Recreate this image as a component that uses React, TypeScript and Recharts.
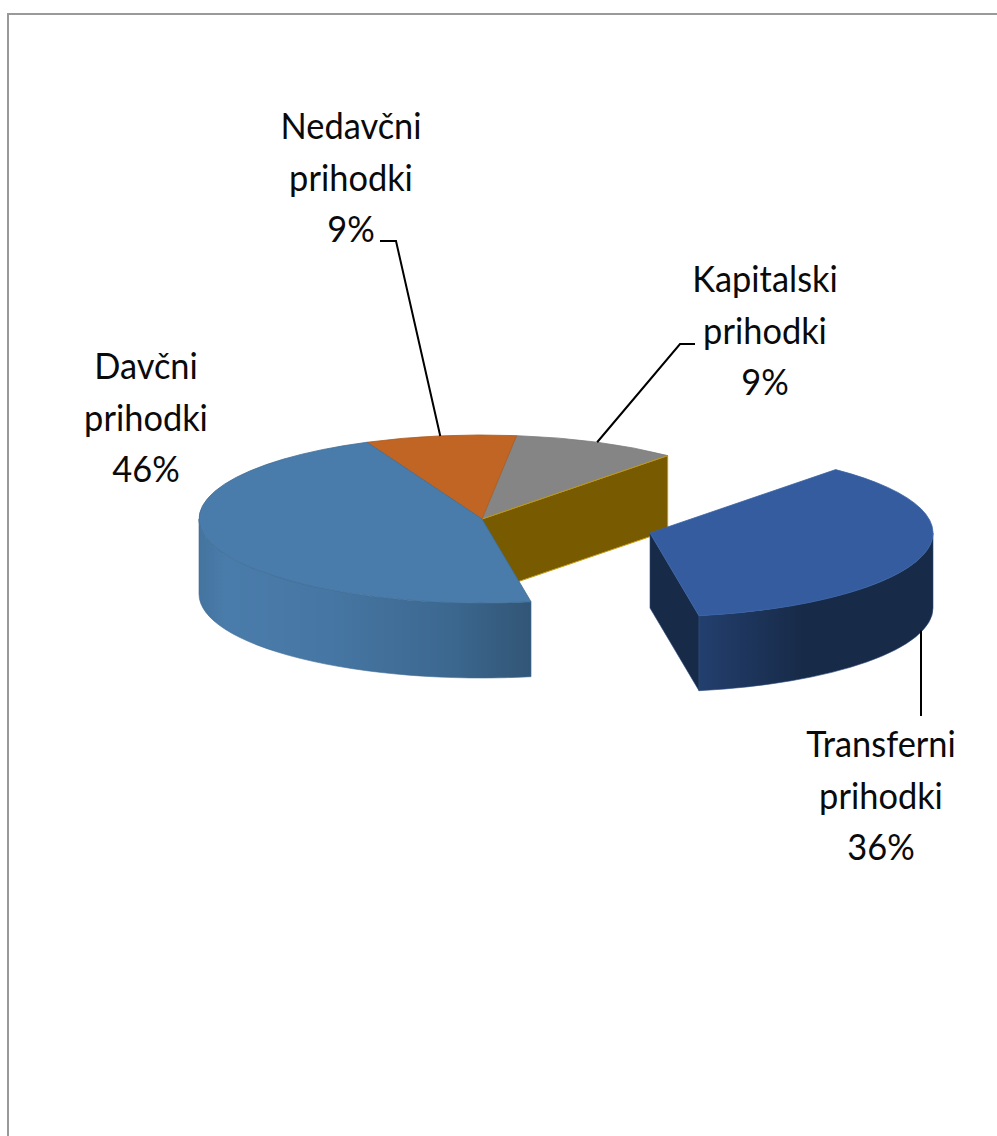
import React from "react";
import { PieChart, Pie } from "recharts";

const categories = ["Kapitalski prihodki", "Nedavčni prihodki", "Davčni prihodki", "Transferni prihodki"];
const shares = [9.44, 8.61, 46.11, 35.84];
const topColors = ["#858585", "#c06524", "#4a7cab", "#355c9e"];

const data = categories.map((name, i) => ({ name, value: shares[i], fill: topColors[i] }));

const W = 997;
const H = 1136;
const CX = 482;
const CY = 519;
const RX = 283;
const RY = 84;
const DEPTH = 75;
const EXPLODE = { dx: 168, dy: 14 };
const FONT = "Lato, 'Open Sans', sans-serif";
const LINE_H = 51.5;

const rad = (a: number) => (a * Math.PI) / 180;
const pt = (cx: number, cy: number, rx: number, ry: number, a: number) => [
  cx + rx * Math.cos(rad(a)),
  cy - ry * Math.sin(rad(a)),
];

function arcTo(rx: number, ry: number, p: number[], large: boolean, sweep: number) {
  return `A${rx} ${ry} 0 ${large ? 1 : 0} ${sweep} ${p[0]} ${p[1]}`;
}

function SliceShape(props: any) {
  const { startAngle, endAngle, outerRadius, fill, name } = props;
  const rx = outerRadius;
  const ry = (outerRadius * RY) / RX;
  const isTransfer = name === categories[3];
  const isTax = name === categories[2];
  const isCapital = name === categories[0];
  const cx = props.cx + (isTransfer ? EXPLODE.dx : 0);
  const cy = props.cy + (isTransfer ? EXPLODE.dy : 0);
  const a0 = pt(cx, cy, rx, ry, startAngle);
  const a1 = pt(cx, cy, rx, ry, endAngle);
  const large = endAngle - startAngle > 180;
  const top = `M${cx} ${cy}L${a0[0]} ${a0[1]}${arcTo(rx, ry, a1, large, 0)}Z`;

  const wall = (from: number, to: number) => {
    const p = pt(cx, cy, rx, ry, from);
    const q = pt(cx, cy, rx, ry, to);
    return `M${p[0]} ${p[1]}${arcTo(rx, ry, q, to - from > 180, 0)}L${q[0]} ${q[1] + DEPTH}${arcTo(
      rx,
      ry,
      [p[0], p[1] + DEPTH],
      to - from > 180,
      1
    )}Z`;
  };

  return (
    <g>
      {isCapital && (
        <path
          d={`M${cx} ${cy}L${a0[0]} ${a0[1]}L${a0[0]} ${a0[1] + DEPTH}L${cx} ${cy + DEPTH}Z`}
          fill="#785a00"
          stroke="#c49a10"
          strokeWidth={1}
        />
      )}
      {isTax && (
        <>
          <defs>
            <linearGradient id="taxWall" gradientUnits="userSpaceOnUse" x1={199} x2={530} y1={0} y2={0}>
              <stop offset="0" stopColor="#44749f" />
              <stop offset="0.08" stopColor="#4a7cab" />
              <stop offset="0.4" stopColor="#4676a3" />
              <stop offset="0.75" stopColor="#3c6890" />
              <stop offset="1" stopColor="#325676" />
            </linearGradient>
          </defs>
          <path d={wall(180, endAngle)} fill="url(#taxWall)" stroke="#3f6d96" strokeWidth={0.6} />
        </>
      )}
      {isTransfer && (
        <>
          <defs>
            <linearGradient id="transferWall" gradientUnits="userSpaceOnUse" x1={699} x2={933} y1={0} y2={0}>
              <stop offset="0" stopColor="#233f6e" />
              <stop offset="0.45" stopColor="#172a47" />
              <stop offset="1" stopColor="#172a47" />
            </linearGradient>
          </defs>
          <path
            d={`M${cx} ${cy}L${a0[0]} ${a0[1]}L${a0[0]} ${a0[1] + DEPTH}L${cx} ${cy + DEPTH}Z`}
            fill="#172a47"
            stroke="#2c4a7c"
            strokeWidth={0.6}
          />
          <path d={wall(startAngle, 360)} fill="url(#transferWall)" stroke="#2c4a7c" strokeWidth={0.6} />
        </>
      )}
      <path
        d={top}
        fill={fill}
        stroke={isTax ? "#3f6d96" : isTransfer ? "#3a63a6" : name === categories[1] ? "#a85a22" : "#7c7c7c"}
        strokeWidth={0.8}
      />
      {isCapital && (
        <line x1={cx} y1={cy} x2={a0[0]} y2={a0[1]} stroke="#c49a10" strokeWidth={1} />
      )}
    </g>
  );
}

const labelCenters: Record<string, { x: number; y: number; knee?: number[][] }> = {
  [categories[0]]: { x: 765, y: 292, knee: [[680, 344], [695, 344]] },
  [categories[1]]: { x: 351, y: 139, knee: [[396, 241], [380, 241]] },
  [categories[2]]: { x: 146, y: 379 },
  [categories[3]]: { x: 881, y: 757, knee: [[921, 716]] },
};

function renderLabel(props: any) {
  const { name, midAngle, percent } = props;
  const l = labelCenters[name];
  const words = String(name).split(" ");
  const lines = [...words, `${Math.round(percent * 100)}%`];
  let leader = null;
  if (l.knee) {
    const isTransfer = name === categories[3];
    const base = isTransfer
      ? pt(CX + EXPLODE.dx, CY + EXPLODE.dy + DEPTH, RX, RY, midAngle)
      : pt(CX, CY, RX, RY, midAngle);
    const start = isTransfer ? [l.knee[0][0], base[1]] : base;
    const pts = [start, ...l.knee].map((p) => p.join(",")).join(" ");
    leader = <polyline points={pts} fill="none" stroke="#000" strokeWidth={2} />;
  }
  return (
    <g>
      {leader}
      {lines.map((t, i) => (
        <text
          key={i}
          transform={`translate(${l.x} ${l.y + i * LINE_H}) scale(0.93 1)`}
          textAnchor="middle"
          fontFamily={FONT}
          fontSize={37}
          fill="#0a0a0a"
        >
          {t}
        </text>
      ))}
    </g>
  );
}

export default function App() {
  return (
    <div style={{ position: "absolute", left: 0, top: 0, width: W, height: H, background: "#fff", overflow: "hidden" }}>
      <div
        style={{
          position: "absolute",
          left: 7,
          top: 13,
          width: W,
          height: H,
          borderLeft: "2px solid #999",
          borderTop: "2px solid #999",
        }}
      />
      <div style={{ position: "absolute", left: 0, top: 0 }}>
        <PieChart width={W} height={H} margin={{ top: 0, right: 0, bottom: 0, left: 0 }}>
          <Pie
            data={data}
            dataKey="value"
            nameKey="name"
            cx={CX}
            cy={CY}
            innerRadius={0}
            outerRadius={RX}
            startAngle={49}
            endAngle={409}
            paddingAngle={0}
            stroke="none"
            shape={SliceShape}
            label={renderLabel}
            labelLine={false}
            isAnimationActive={false}
          />
        </PieChart>
      </div>
    </div>
  );
}
